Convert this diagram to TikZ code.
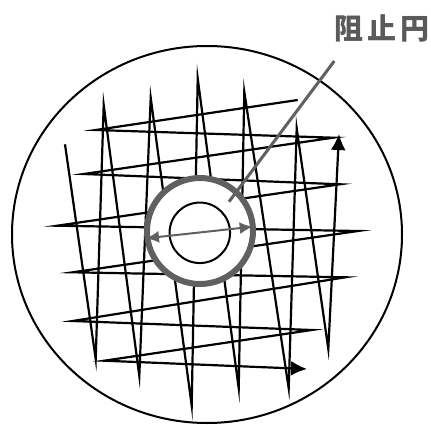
\documentclass[tikz,border=0pt]{standalone}
\usepackage{fontspec}
\newfontfamily\cjk{Noto Sans CJK JP}[LetterSpace=14]
\usetikzlibrary{arrows.meta}
\definecolor{ringgray}{HTML}{606060}
\definecolor{textgray}{HTML}{5A5A5A}
\tikzset{
  zig/.style={line width=2.2pt, black, line join=miter, miter limit=40},
  bigtip/.style={-{Latex[length=16pt,width=15pt]}},
  ringline/.style={draw=ringgray, line width=6pt, fill=white},
  dimarrow/.style={ringgray, line width=2pt, {Latex[length=13pt,width=12pt]}-{Latex[length=13pt,width=12pt]}},
  leader/.style={ringgray, line width=3pt},
}
\begin{document}
\begin{tikzpicture}[x=1pt,y=-1pt]
\useasboundingbox (0,0) rectangle (431,425);
% outer disc
\draw[line width=2pt] (207,234.5) ellipse [x radius=195, y radius=188.5];
% vertical zigzag
\draw[zig, bigtip] (65,144.3) -- (95.7,359) -- (103.7,105) -- (139.3,376) -- (150.7,97.7)
  -- (191.7,405.7) -- (197.7,78.3) -- (238.7,388.3) -- (244.3,91.7) -- (288.7,388.3)
  -- (296.7,128.3) -- (328.3,349) -- (339,134);
% horizontal zigzag
\draw[zig, bigtip] (297.7,100) -- (95.7,130) -- (333.3,137.7) -- (83.7,174) -- (340,184.3)
  -- (57.3,225.7) -- (358,231) -- (72.7,272.3) -- (345.3,277.3) -- (72.7,321)
  -- (311.7,330) -- (104.3,360.7) -- (307,369);
% stop circle
\node[circle, ringline, minimum size=106pt, inner sep=0pt] (ring) at (200,231) {};
\node[circle, draw, line width=2pt, minimum size=60.5pt, inner sep=0pt] (core) at (199.8,232.8) {};
\coordinate (dl) at (146,238.3);
\coordinate (dr) at (252.7,226.7);
\draw[dimarrow] (dl) -- (dr);
% label
\node[textgray, anchor=west, inner sep=0pt] (lab) at (334,28.5) {\cjk\bfseries\fontsize{29pt}{30pt}\selectfont 阻止円};
\coordinate (ls) at (334.3,61);
\coordinate (le) at (229,201.7);
\draw[leader] (ls) -- (le);
\end{tikzpicture}
\end{document}
